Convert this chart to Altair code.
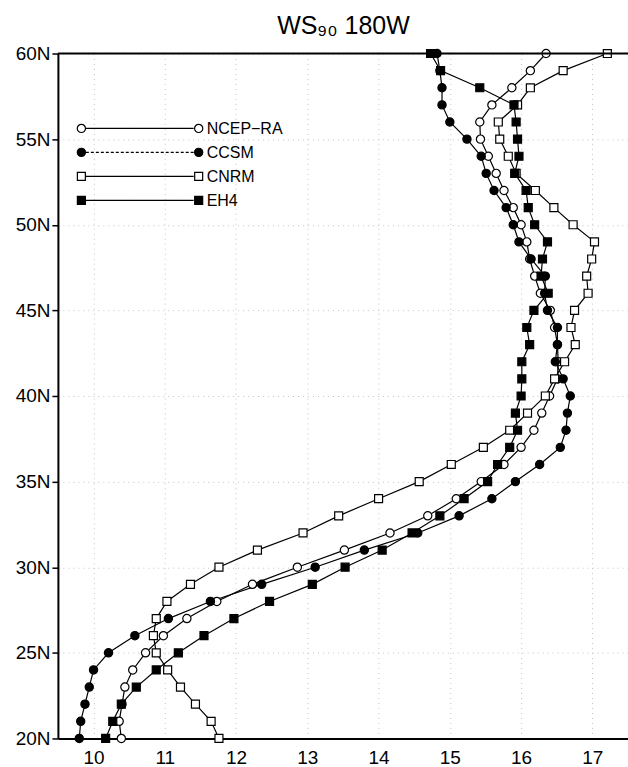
import altair as alt
import pandas as pd

# Latitudes (degrees N) of the profile points
lats = list(range(20, 61))

# Wind speed profiles along 180W, one value per degree from 20N to 60N
ncep = [10.39, 10.36, 10.40, 10.44, 10.55, 10.73, 10.98, 11.31, 11.73, 12.23,
        12.86, 13.52, 14.16, 14.69, 15.09, 15.44, 15.76, 16.00, 16.18, 16.29,
        16.40, 16.51, 16.52, 16.51, 16.47, 16.41, 16.27, 16.19, 16.12, 16.08,
        16.00, 15.89, 15.76, 15.65, 15.54, 15.43, 15.42, 15.59, 15.87, 16.13,
        16.35]
ccsm = [9.80, 9.82, 9.88, 9.94, 10.00, 10.21, 10.58, 11.05, 11.64, 12.36,
        13.11, 13.80, 14.55, 15.13, 15.59, 15.92, 16.26, 16.55, 16.63, 16.65,
        16.69, 16.59, 16.48, 16.51, 16.51, 16.37, 16.33, 16.34, 16.14, 15.97,
        15.89, 15.79, 15.62, 15.51, 15.44, 15.24, 15.00, 14.89, 14.89, 14.86,
        14.82]
cnrm = [11.76, 11.65, 11.43, 11.22, 11.04, 10.88, 10.84, 10.88, 11.03, 11.36,
        11.76, 12.30, 12.94, 13.44, 14.00, 14.57, 15.02, 15.47, 15.84, 16.09,
        16.34, 16.47, 16.61, 16.76, 16.70, 16.75, 16.94, 16.92, 16.99, 17.03,
        16.73, 16.46, 16.20, 15.93, 15.82, 15.70, 15.68, 15.95, 16.13, 16.59,
        17.21]
eh4 = [10.17, 10.27, 10.39, 10.60, 10.88, 11.19, 11.55, 11.97, 12.47, 13.07,
       13.53, 14.05, 14.47, 14.86, 15.20, 15.53, 15.67, 15.84, 15.95, 15.92,
       16.00, 16.01, 16.01, 16.12, 16.08, 16.18, 16.38, 16.28, 16.30, 16.37,
       16.19, 16.10, 16.07, 15.91, 15.97, 15.95, 15.93, 15.90, 15.42, 14.87,
       14.73]

series_names = ["NCEP\u2212RA", "CCSM", "CNRM", "EH4"]
series_values = [ncep, ccsm, cnrm, eh4]

x_ticks = list(range(10, 18))
y_ticks = list(range(20, 61, 5))

df = pd.DataFrame(
    [{"series": name, "lat": lat, "ws": v}
     for name, vals in zip(series_names, series_values)
     for lat, v in zip(lats, vals)]
)

FONT = "Liberation Sans"
W, H = 571, 686

# marker style per series: (shape, fill, line dash in the key)
styles = {
    "NCEP\u2212RA": ("circle", "white", [1, 0]),
    "CCSM": ("circle", "black", [3, 2]),
    "CNRM": ("square", "white", [1, 0]),
    "EH4": ("square", "black", [1, 0]),
}
marker_size = {"circle": 68, "square": 64}

x_enc = alt.X(
    "ws:Q",
    scale=alt.Scale(domain=[9.5, 17.5], nice=False, zero=False),
    axis=alt.Axis(values=x_ticks, title=None, ticks=False, labelPadding=10,
                  format="d", grid=True, domain=True),
)
y_enc = alt.Y(
    "lat:Q",
    scale=alt.Scale(domain=[20, 60], nice=False, zero=False),
    axis=alt.Axis(values=y_ticks, title=None, labelExpr="datum.value + 'N'",
                  tickSize=6, tickWidth=1.5, labelPadding=2, grid=True,
                  domain=True),
)

base = alt.Chart(df)

lines = base.mark_line(color="black", strokeWidth=1.2).encode(
    x=x_enc, y=y_enc, detail="series:N", order="lat:Q"
)

layers = [lines]
for name in series_names:
    shape, fill, _ = styles[name]
    layers.append(
        base.transform_filter(alt.datum.series == name)
        .mark_point(shape=shape, size=marker_size[shape], fill=fill,
                    stroke="black", strokeWidth=1.2, opacity=1, fillOpacity=1)
        .encode(x="ws:Q", y="lat:Q")
    )

# top edge of the frame (the right edge runs off the page)
frame_df = pd.DataFrame({"edge": ["top"]})
layers.append(
    alt.Chart(frame_df).mark_rule(color="black", strokeWidth=2).encode(
        x=alt.value(0), x2=alt.value(W + 2), y=alt.value(0)
    )
)

# key in the upper-left corner of the panel
key_rows = [75, 99, 123, 147]
key_df = pd.DataFrame({"name": series_names})
for name, ry in zip(series_names, key_rows):
    shape, fill, dash = styles[name]
    kd = alt.Chart(key_df).transform_filter(alt.datum.name == name)
    layers.append(
        kd.mark_rule(color="black", strokeWidth=1.2, strokeDash=dash).encode(
            x=alt.value(28), x2=alt.value(136), y=alt.value(ry)
        )
    )
    for kx in (23.5, 141):
        layers.append(
            kd.mark_point(shape=shape, size=marker_size[shape], fill=fill,
                          stroke="black", strokeWidth=1.2, opacity=1,
                          fillOpacity=1)
            .encode(x=alt.value(kx), y=alt.value(ry))
        )
    layers.append(
        kd.mark_text(align="left", baseline="middle", font=FONT, fontSize=16,
                     color="black")
        .encode(x=alt.value(149), y=alt.value(ry + 1), text="name:N")
    )

# panel heading above the frame
heading_df = pd.DataFrame({"heading": ["WS\u2089\u2080  180W"]})
layers.append(
    alt.Chart(heading_df)
    .mark_text(align="center", baseline="alphabetic", font=FONT, fontSize=25,
               color="black")
    .encode(x=alt.value(286), y=alt.value(-20), text="heading:N")
)

chart = (
    alt.layer(*layers)
    .properties(
        width=W,
        height=H,
        background="white",
        autosize=alt.AutoSizeParams(type="none"),
        padding={"left": 58, "top": 53, "right": 0, "bottom": 28},
    )
    .configure_view(stroke=None)
    .configure_axis(
        labelFont=FONT, labelFontSize=19, labelColor="black",
        gridColor="#c4c4c4", gridDash=[1, 4], gridWidth=1,
        tickColor="black", domainColor="black", domainWidth=2,
    )
)

chart.save("out.html", embed_options={"renderer": "svg", "actions": False})
